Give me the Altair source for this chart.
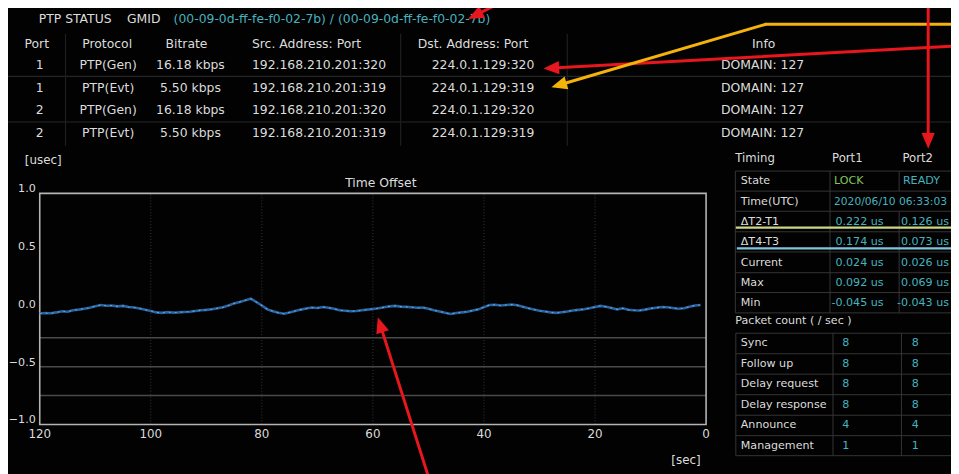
import math
import altair as alt
import pandas as pd

# ------------------------------------------------------------------ data
status_title = "PTP STATUS"
gmid_label = "GMID"
gmid_value = "(00-09-0d-ff-fe-f0-02-7b) / (00-09-0d-ff-fe-f0-02-7b)"

stream_headers = ["Port", "Protocol", "Bitrate", "Src. Address: Port", "Dst. Address: Port", "Info"]
stream_port = ["1", "1", "2", "2"]
stream_protocol = ["PTP(Gen)", "PTP(Evt)", "PTP(Gen)", "PTP(Evt)"]
stream_bitrate = ["16.18 kbps", "5.50 kbps", "16.18 kbps", "5.50 kbps"]
stream_src = ["192.168.210.201:320", "192.168.210.201:319", "192.168.210.201:320", "192.168.210.201:319"]
stream_dst = ["224.0.1.129:320", "224.0.1.129:319", "224.0.1.129:320", "224.0.1.129:319"]
stream_info = ["DOMAIN: 127", "DOMAIN: 127", "DOMAIN: 127", "DOMAIN: 127"]

offset_title = "Time Offset"
offset_y_unit = "[usec]"
offset_x_unit = "[sec]"
offset_x_ticks = [120, 100, 80, 60, 40, 20, 0]
offset_y_ticks = [1.0, 0.5, 0.0, -0.5, -1.0]
offset_grid_sec = [100, 80, 60, 40, 20]
offset_grid_usec = [-0.25, -0.5, -0.75]
offset_sec = list(range(120, 0, -1))
offset_usec = [
    -0.040, -0.036, -0.038, -0.030, -0.020, -0.024, -0.012, -0.006, 0.002, 0.010,   # 120..111
    0.024, 0.034, 0.028, 0.030, 0.022, 0.026, 0.016, 0.012, 0.004, -0.008,          # 110..101
    -0.018, -0.030, -0.034, -0.028, -0.032, -0.030, -0.026, -0.024, -0.018, -0.012, # 100..91
    -0.008, -0.002, 0.006, 0.014, 0.030, 0.048, 0.060, 0.074, 0.088, 0.060,         # 90..81
    0.030, -0.004, -0.020, -0.034, -0.042, -0.030, -0.018, -0.006, 0.004, 0.012,    # 80..71
    0.008, 0.016, 0.010, 0.002, -0.012, -0.016, -0.020, -0.018, -0.012, -0.006,     # 70..61
    0.000, 0.006, 0.014, 0.022, 0.026, 0.020, 0.018, 0.014, 0.010, 0.012,           # 60..51
    0.002, -0.012, -0.022, -0.034, -0.044, -0.036, -0.030, -0.024, -0.014, -0.004,  # 50..41
    0.016, 0.034, 0.036, 0.030, 0.034, 0.038, 0.032, 0.018, 0.006, -0.006,          # 40..31
    -0.016, -0.022, -0.030, -0.034, -0.028, -0.022, -0.014, -0.008, -0.002, 0.006,  # 30..21
    0.016, 0.026, 0.018, 0.008, -0.004, 0.006, -0.008, -0.012, -0.014, -0.006,      # 20..11
    0.004, 0.010, 0.016, 0.014, 0.008, 0.002, 0.006, 0.018, 0.030, 0.034,           # 10..1
]

timing_header = ["Timing", "Port1", "Port2"]
timing_rows = ["State", "Time(UTC)", "ΔT2-T1", "ΔT4-T3", "Current", "Max", "Min"]
timing_state = ["LOCK", "READY"]
timing_utc = "2020/06/10 06:33:03"
timing_port1 = ["0.222 us", "0.174 us", "0.024 us", "0.092 us", "-0.045 us"]
timing_port2 = ["0.126 us", "0.073 us", "0.026 us", "0.069 us", "-0.043 us"]
packet_title = "Packet count ( / sec )"
packet_rows = ["Sync", "Follow up", "Delay request", "Delay response", "Announce", "Management"]
packet_port1 = [8, 8, 8, 8, 4, 1]
packet_port2 = [8, 8, 8, 8, 4, 1]

# ------------------------------------------------------------------ layout (page pixels)
W, H = 951, 466
PX0, PY0 = 8, 8
FONT = "DejaVu Sans"
WHITE = "#dcdcdc"
CYAN = "#46b2bf"
GREEN = "#84c45c"
LINE = "#363636"

PLOT_L, PLOT_R, PLOT_T, PLOT_B = 40, 712, 193, 426

TOP_HEAD_Y = 42.5
TOP_ROW_Y0, TOP_ROW_DY = 63.5, 22.8
TIM_ROW_Y0, TIM_ROW_DY = 180.7, 20.55
PKT_ROW_Y0, PKT_ROW_DY = 344.3, 20.6


def page_x():
    return alt.Scale(domain=[PX0, PX0 + W], range=[0, W], nice=False, zero=False)


def page_y():
    return alt.Scale(domain=[PY0, PY0 + H], range=[0, H], nice=False, zero=False)


def cells(labels, xs, ys):
    n = len(labels)
    xs = xs if isinstance(xs, list) else [xs] * n
    ys = ys if isinstance(ys, list) else [ys] * n
    return pd.DataFrame({"label": [str(v) for v in labels], "px": xs, "py": ys})


def text_layer(df, color=WHITE, size=12.5, align="left"):
    return alt.Chart(df).mark_text(
        align=align, baseline="middle", color=color, fontSize=size, font=FONT
    ).encode(
        x=alt.X("px:Q", scale=page_x(), axis=None),
        y=alt.Y("py:Q", scale=page_y(), axis=None),
        text=alt.Text("label:N"),
    )


def segs(items):
    return pd.DataFrame(items, columns=["x1", "y1", "x2", "y2"])


def rule_layer(df, color=LINE, width=1.0, dash=None):
    kw = dict(color=color, strokeWidth=width)
    if dash:
        kw["strokeDash"] = dash
    return alt.Chart(df).mark_rule(**kw).encode(
        x=alt.X("x1:Q", scale=page_x(), axis=None),
        x2="x2:Q",
        y=alt.Y("y1:Q", scale=page_y(), axis=None),
        y2="y2:Q",
    )


top_rows_y = [TOP_ROW_Y0 + i * TOP_ROW_DY for i in range(4)]
tim_rows_y = [TIM_ROW_Y0 + i * TIM_ROW_DY for i in range(len(timing_rows))]
pkt_rows_y = [PKT_ROW_Y0 + i * PKT_ROW_DY for i in range(len(packet_rows))]

TS = 11.2  # timing table font size

screen_layers = [
    # top table separators
    rule_layer(segs([(5, 75, 960, 75), (5, 121, 960, 121)]), color="#262626", width=1.2),
    rule_layer(segs([(66, 32, 66, 145), (404, 32, 404, 145), (572, 32, 572, 145)]), color="#1f1f1f", width=1.2),
    # top status line
    text_layer(cells([status_title, gmid_label], [39, 128], 17)),
    text_layer(cells([gmid_value], 175, 17), color=CYAN),
    # header
    text_layer(cells([stream_headers[0], stream_headers[1], stream_headers[2]], [37, 108, 188], TOP_HEAD_Y), align="center"),
    text_layer(cells([stream_headers[3]], 254, TOP_HEAD_Y)),
    text_layer(cells([stream_headers[4], stream_headers[5]], [477, 770], TOP_HEAD_Y), align="center"),
    # rows
    text_layer(cells(stream_port, 40, top_rows_y), align="center"),
    text_layer(cells(stream_protocol, 109, top_rows_y), align="center"),
    text_layer(cells(stream_bitrate, 192, top_rows_y), align="center"),
    text_layer(cells(stream_src, 254, top_rows_y)),
    text_layer(cells(stream_dst, 487, top_rows_y), align="center"),
    text_layer(cells(stream_info, 769, top_rows_y), align="center"),
    # plot texts
    text_layer(cells([offset_y_unit], 25, 159), size=12),
    text_layer(cells([offset_title], 384, 183), size=12.5, align="center"),
    text_layer(cells([offset_x_unit], 677, 462), size=12),
    # timing table grid
    rule_layer(segs([(741.5, y, 962, y) for y in [170.5, 190.7, 211, 231.7, 252, 273, 293, 313.5]])),
    rule_layer(segs([(741.5, 170.5, 741.5, 313.5), (837, 170.5, 837, 313.5),
                     (906.7, 170.5, 906.7, 190.7), (906.7, 211, 906.7, 313.5)])),
    text_layer(cells(timing_header, [741.5, 839, 910], 157.5), size=11.8),
    text_layer(cells(timing_rows, 747, tim_rows_y), size=TS),
    text_layer(cells([timing_state[0]], 841, tim_rows_y[0]), color=GREEN, size=TS),
    text_layer(cells([timing_state[1]], 910.5, tim_rows_y[0]), color=CYAN, size=TS),
    text_layer(cells([timing_utc], 841, tim_rows_y[1]), color=CYAN, size=10.8),
    text_layer(cells(timing_port1, 891, tim_rows_y[2:]), color=CYAN, size=TS, align="right"),
    text_layer(cells(timing_port2, 957, tim_rows_y[2:]), color=CYAN, size=TS, align="right"),
    # packet table
    rule_layer(segs([(742, y, 962, y) for y in [334, 354.7, 375.3, 396, 416.7, 437.3, 457.5]])),
    rule_layer(segs([(742, 334, 742, 457.5), (840, 334, 840, 457.5), (909, 334, 909, 457.5)])),
    text_layer(cells([packet_title], 741.5, 322), size=TS),
    text_layer(cells(packet_rows, 747, pkt_rows_y), size=TS),
    text_layer(cells(packet_port1, 853, pkt_rows_y), color=CYAN, size=TS, align="center"),
    text_layer(cells(packet_port2, 923, pkt_rows_y), color=CYAN, size=TS, align="center"),
    # highlight lines in timing table
    rule_layer(segs([(742, 227.5, 962, 227.5)]), color="#cdd684", width=2.2),
    rule_layer(segs([(743, 248.5, 962, 248.5)]), color="#82c4de", width=2.2),
]
screen = alt.layer(*screen_layers)

# ------------------------------------------------------------------ time offset plot
sx = alt.Scale(domain=[120, 0], range=[PLOT_L - PX0, PLOT_R - PX0], nice=False, zero=False)
sy = alt.Scale(domain=[-1, 1], range=[PLOT_B - PY0, PLOT_T - PY0], nice=False, zero=False)

vgrid = alt.Chart(pd.DataFrame({"sec": offset_grid_sec, "lo": -1.0, "hi": 1.0})).mark_rule(
    color="#3a3a3a", strokeWidth=1, strokeDash=[1, 2]
).encode(x=alt.X("sec:Q", scale=sx, axis=None), y=alt.Y("lo:Q", scale=sy, axis=None), y2="hi:Q")

hgrid = alt.Chart(pd.DataFrame({"usec": offset_grid_usec, "lo": 120, "hi": 0})).mark_rule(
    color="#4a4a4a", strokeWidth=1.4
).encode(y=alt.Y("usec:Q", scale=sy, axis=None), x=alt.X("lo:Q", scale=sx, axis=None), x2="hi:Q")

frame = alt.Chart(pd.DataFrame({"a": [120], "b": [0], "c": [-1.0], "d": [1.0]})).mark_rect(
    fillOpacity=0, stroke="#b4b4b4", strokeWidth=1.6
).encode(
    x=alt.X("a:Q", scale=sx, axis=None), x2="b:Q",
    y=alt.Y("c:Q", scale=sy, axis=None), y2="d:Q",
)

# tick labels, placed through the plot's own scales
xlab = alt.Chart(pd.DataFrame({"sec": offset_x_ticks, "usec": -1.0})).mark_text(
    align="center", baseline="middle", dy=10, color=WHITE, font=FONT, fontSize=12
).encode(
    x=alt.X("sec:Q", scale=sx, axis=None),
    y=alt.Y("usec:Q", scale=sy, axis=None),
    text=alt.Text("sec:Q", format="d"),
)
ylab = alt.Chart(pd.DataFrame({"usec": offset_y_ticks, "sec": 120})).mark_text(
    align="right", baseline="middle", dx=-4, dy=-4, color=WHITE, font=FONT, fontSize=11.2
).encode(
    x=alt.X("sec:Q", scale=sx, axis=None),
    y=alt.Y("usec:Q", scale=sy, axis=None),
    text=alt.Text("usec:Q", format=".1f"),
)

offset_df = pd.DataFrame({"sec": offset_sec, "usec": offset_usec})
line = alt.Chart(offset_df).mark_line(color="#2a63a0", strokeWidth=2.6).encode(
    x=alt.X("sec:Q", scale=sx, axis=None),
    y=alt.Y("usec:Q", scale=sy, axis=None),
)
line_hi = alt.Chart(offset_df).mark_line(
    color="#6fb0e2", strokeWidth=1.1, strokeDash=[2, 4], opacity=0.85
).encode(x=alt.X("sec:Q", scale=sx, axis=None), y=alt.Y("usec:Q", scale=sy, axis=None))

plot = alt.layer(vgrid, hgrid, frame, xlab, ylab, line, line_hi)

# ------------------------------------------------------------------ arrows (page pixels)
RED, YEL = "#e8161d", "#f4b20a"
arrows = [
    (RED, [(514, -4), (472, 17)]),
    (RED, [(968, 44), (548, 67)]),
    (YEL, [(968, 22.5), (772, 22.5), (556, 86)]),
    (RED, [(936, -4), (936, 148)]),
    (RED, [(433, 482), (381, 318)]),
]
seg_rows, head_rows = [], []
for col, pts in arrows:
    for i in range(len(pts) - 1):
        (xa, ya), (xb, yb) = pts[i], pts[i + 1]
        if i == len(pts) - 2:
            L = math.hypot(xb - xa, yb - ya)
            xb2, yb2 = xb - (xb - xa) / L * 9, yb - (yb - ya) / L * 9
        else:
            xb2, yb2 = xb, yb
        seg_rows.append((xa, ya, xb2, yb2, col))
    (xa, ya), (xb, yb) = pts[-2], pts[-1]
    ang = math.degrees(math.atan2(xb - xa, -(yb - ya))) % 360
    head_rows.append((xb, yb, ang, col))

seg_df = pd.DataFrame(seg_rows, columns=["x1", "y1", "x2", "y2", "col"])
head_df = pd.DataFrame(head_rows, columns=["x", "y", "ang", "col"])

arrow_lines = alt.Chart(seg_df).mark_rule(strokeWidth=3, strokeCap="round").encode(
    x=alt.X("x1:Q", scale=page_x(), axis=None), x2="x2:Q",
    y=alt.Y("y1:Q", scale=page_y(), axis=None), y2="y2:Q",
    color=alt.Color("col:N", scale=None),
)
arrow_heads = alt.Chart(head_df).mark_point(
    shape="M0,0L0.42,1L-0.42,1Z", filled=True, size=1000, opacity=1, strokeWidth=0
).encode(
    x=alt.X("x:Q", scale=page_x(), axis=None),
    y=alt.Y("y:Q", scale=page_y(), axis=None),
    angle=alt.Angle("ang:Q", scale=None),
    color=alt.Color("col:N", scale=None),
)
arrow_layer = alt.layer(arrow_lines, arrow_heads)

chart = (
    alt.layer(screen, plot, arrow_layer)
    .resolve_scale(x="independent", y="independent")
    .properties(
        width=W, height=H, background="#020202", padding=0,
        autosize=alt.AutoSizeParams(type="none"),
    )
    .configure_view(stroke=None)
)

chart.save("out.html", embed_options={"renderer": "svg", "actions": False})
